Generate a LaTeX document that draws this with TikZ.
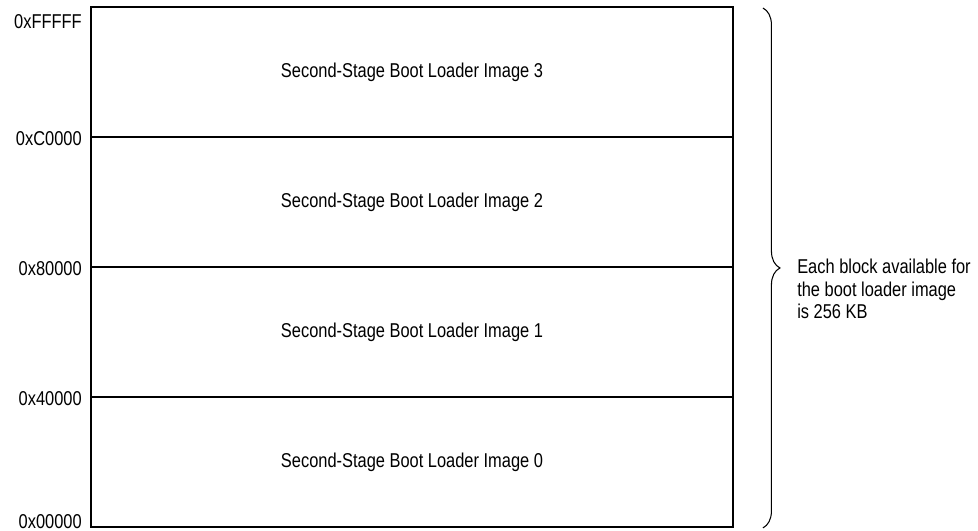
\documentclass[tikz,border=0pt]{standalone}
\usepackage{fontspec}
\setmainfont[FakeStretch=0.82]{Liberation Sans}
\usetikzlibrary{positioning,calc,decorations.pathreplacing}

\begin{document}
\begin{tikzpicture}[x=0.02cm,y=-0.02cm,
    txt/.style={font=\fontsize{11.4}{12.8}\selectfont},
    blk/.style={txt,draw,line width=0.8pt,outer sep=0pt,inner sep=0pt,
      minimum width=12.84cm,minimum height=2.6cm},
    addr/.style={txt,inner sep=0pt,anchor=east},
    brc/.style={decorate,decoration={brace,amplitude=0.34cm},line width=0.6pt}]
    \useasboundingbox (0,0) rectangle (978,531);
    % memory blocks, top = highest address
    \node[blk] (img3) at (412,72) {Second-Stage Boot Loader Image 3};
    \foreach \i/\j in {2/3,1/2,0/1}{
      \node[blk,below=0pt of img\j] (img\i) {Second-Stage Boot Loader Image \i};
    }
    % address labels at the block borders
    \node[addr] (aFFFFF) at ($(img3.north west)+(-9,15)$) {0xFFFFF};
    \node[addr] (aC0000) at ($(img3.south west)+(-9,2)$) {0xC0000};
    \node[addr] (a80000) at ($(img2.south west)+(-9,2)$) {0x80000};
    \node[addr] (a40000) at ($(img1.south west)+(-9,2)$) {0x40000};
    \node[addr] (a00000) at ($(img0.south west)+(-9,-5)$) {0x00000};
    % brace over all four blocks
    \coordinate (btop) at ($(img3.north east)+(30,1)$);
    \coordinate (bbot) at ($(img0.south east)+(30,1)$);
    \draw[brc] (btop) -- (bbot);
    \coordinate (tip) at ($(img1.north east)+(47,1)$);
    \node[txt,align=left,inner sep=0pt,anchor=north west] (note) at ($(tip)+(17,-9)$)
      {Each block available for\\the boot loader image\\is 256 KB};
\end{tikzpicture}
\end{document}
